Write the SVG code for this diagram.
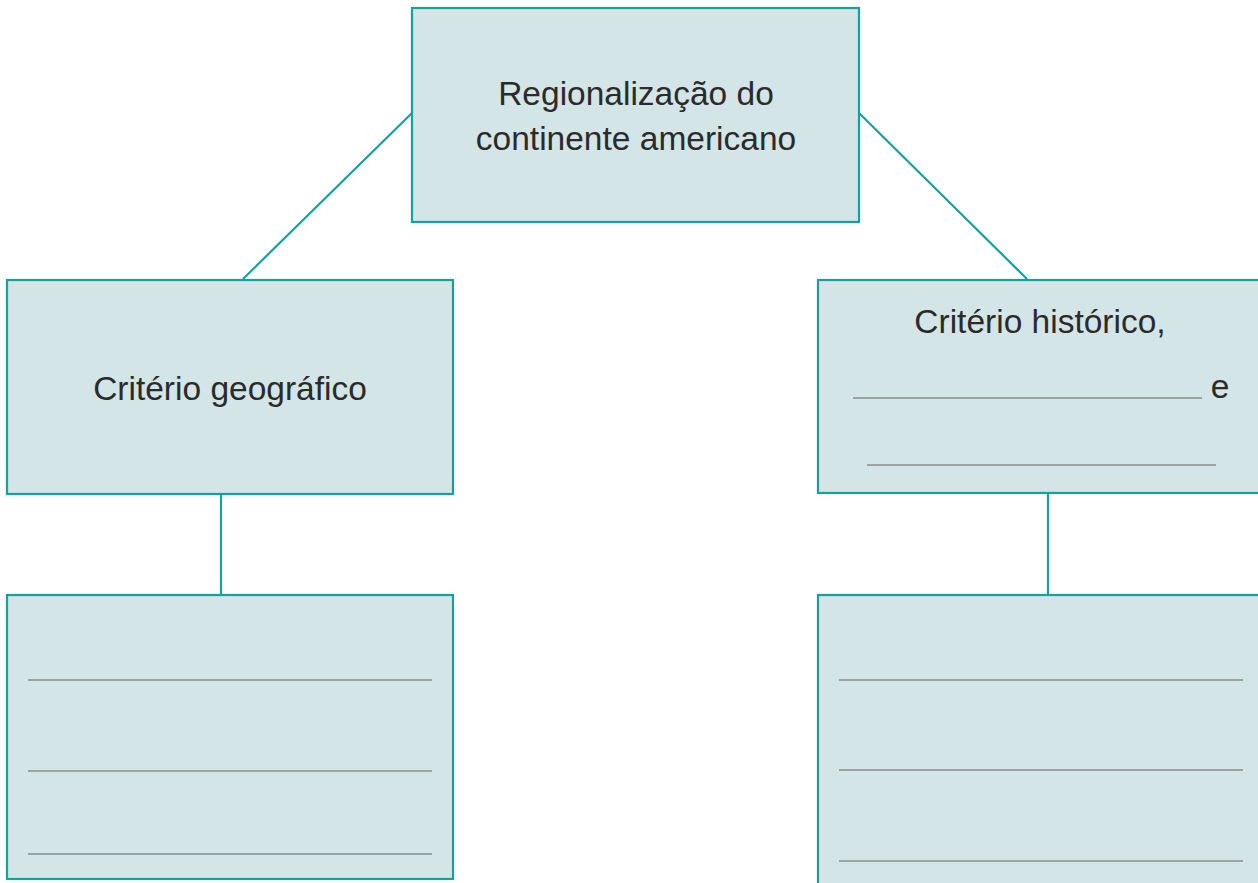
<svg xmlns="http://www.w3.org/2000/svg" width="1258" height="883" viewBox="0 0 1258 883">
<style>
.box{fill:#d3e5e7;stroke:#17a0a0;stroke-width:2.2}
.conn{stroke:#17a0a0;stroke-width:2.2;fill:none}
.blank{stroke:#8a8c8c;stroke-width:1.4}
.t{font-family:"Liberation Sans",Arial,sans-serif;font-size:33.5px;fill:#2b2b2b;text-anchor:middle}
</style>
<rect width="1258" height="883" fill="#ffffff"/>
<g id="connectors">
<line class="conn" x1="412" y1="113" x2="243" y2="279"/>
<line class="conn" x1="859" y1="113" x2="1027" y2="279"/>
<line class="conn" x1="221" y1="494" x2="221" y2="595"/>
<line class="conn" x1="1048" y1="494" x2="1048" y2="595"/>
</g>
<g id="root">
<rect class="box" x="412" y="8" width="447" height="214"/>
<text class="t" x="636" y="105">Regionalização do</text>
<text class="t" x="636" y="150">continente americano</text>
</g>
<g id="geo">
<rect class="box" x="7" y="280" width="446" height="214"/>
<text class="t" x="230" y="400">Critério geográfico</text>
</g>
<g id="hist">
<rect class="box" x="818" y="280" width="445" height="213"/>
<text class="t" x="1040" y="333">Critério histórico,</text>
<line class="blank" x1="853" y1="398" x2="1202" y2="398"/>
<text class="t" x="1220" y="398">e</text>
<line class="blank" x1="867" y1="465" x2="1216" y2="465"/>
</g>
<g id="geo-answer">
<rect class="box" x="7" y="595" width="446" height="284"/>
<line class="blank" x1="28" y1="680" x2="432" y2="680"/>
<line class="blank" x1="28" y1="771" x2="432" y2="771"/>
<line class="blank" x1="28" y1="854" x2="432" y2="854"/>
</g>
<g id="hist-answer">
<rect class="box" x="818" y="595" width="445" height="300"/>
<line class="blank" x1="839" y1="680" x2="1243" y2="680"/>
<line class="blank" x1="839" y1="770" x2="1243" y2="770"/>
<line class="blank" x1="839" y1="861" x2="1243" y2="861"/>
</g>
</svg>
